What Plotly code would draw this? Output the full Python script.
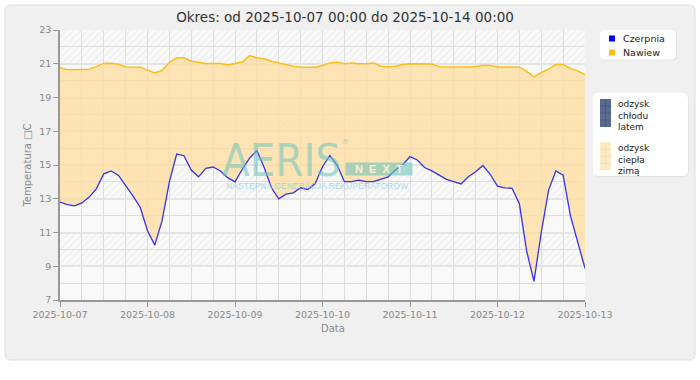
import plotly.graph_objects as go
import pandas as pd

# ---------------- data ----------------
times = pd.date_range("2025-10-07 00:00", "2025-10-13 00:00", freq="2h")

czerpnia = [12.8, 12.65, 12.58, 12.75, 13.1, 13.6, 14.48, 14.65, 14.4, 13.8,
            13.17, 12.5, 11.1, 10.25, 11.7, 14.0, 15.65, 15.55, 14.7, 14.3,
            14.8, 14.88, 14.65, 14.25, 14.0, 14.75, 15.4, 15.85, 14.85, 13.65,
            13.0, 13.27, 13.35, 13.65, 13.55, 13.9, 14.9, 15.55, 15.0, 14.02,
            14.02, 14.1, 14.02, 14.02, 14.15, 14.3, 14.7, 15.0, 15.5, 15.3,
            14.85, 14.65, 14.4, 14.15, 14.02, 13.88, 14.3, 14.6, 14.97, 14.45,
            13.75, 13.65, 13.62, 12.7, 9.9, 8.1, 11.0, 13.5, 14.65, 14.4,
            12.0, 10.5, 8.88]

nawiew = [20.76, 20.65, 20.65, 20.68, 20.68, 20.83, 21.02, 21.03, 20.97, 20.81,
          20.81, 20.8, 20.62, 20.45, 20.6, 21.07, 21.35, 21.35, 21.15, 21.08,
          21.01, 21.01, 21.01, 20.93, 21.02, 21.1, 21.48, 21.36, 21.3, 21.15,
          21.05, 20.95, 20.85, 20.8, 20.8, 20.8, 20.9, 21.05, 21.1, 21.0,
          21.05, 21.0, 21.0, 21.05, 20.85, 20.82, 20.85, 20.95, 21.0, 20.99,
          20.99, 20.99, 20.82, 20.81, 20.81, 20.81, 20.81, 20.83, 20.91, 20.9,
          20.81, 20.81, 20.81, 20.8, 20.55, 20.22, 20.48, 20.68, 20.95, 20.95,
          20.72, 20.58, 20.36]

y_range = [7, 23]
x_range = ["2025-10-07", "2025-10-13"]
hatch_bands = [(9, 11), (13, 15), (17, 19), (21, 23)]

title_text = "Okres: od 2025-10-07 00:00 do 2025-10-14 00:00"
series_names = ["Czerpnia", "Nawiew"]
legend2_names = ["odzysk<br>chłodu<br>latem", "odzysk<br>ciepła<br>zimą"]

# ---------------- geometry helpers ----------------
W, H = 700, 380
ML, MR, MT, MB = 60, 115, 30, 80
PW, PH = W - ML - MR, H - MT - MB


def PX(x):
    return (x - ML) / PW


def PY(y):
    return (H - MB - y) / PH


def rrect(x0, y0, x1, y1, r):
    pts = [
        f"M {PX(x0 + r)},{PY(y0)}",
        f"L {PX(x1 - r)},{PY(y0)}",
        f"Q {PX(x1)},{PY(y0)} {PX(x1)},{PY(y0 + r)}",
        f"L {PX(x1)},{PY(y1 - r)}",
        f"Q {PX(x1)},{PY(y1)} {PX(x1 - r)},{PY(y1)}",
        f"L {PX(x0 + r)},{PY(y1)}",
        f"Q {PX(x0)},{PY(y1)} {PX(x0)},{PY(y1 - r)}",
        f"L {PX(x0)},{PY(y0 + r)}",
        f"Q {PX(x0)},{PY(y0)} {PX(x0 + r)},{PY(y0)}",
        "Z",
    ]
    return " ".join(pts)


FONT = "DejaVu Sans"
fig = go.Figure()

# hatched background bands
for lo, hi in hatch_bands:
    fig.add_trace(go.Scatter(
        x=[x_range[0], x_range[1], x_range[1], x_range[0], x_range[0]],
        y=[lo, lo, hi, hi, lo],
        mode="none", fill="toself", fillcolor="rgba(0,0,0,0)",
        fillpattern=dict(shape="/", fgcolor="#e2e2e2", bgcolor="rgba(0,0,0,0)",
                         size=5, solidity=0.25),
        hoverinfo="skip", showlegend=False,
    ))

fig.add_trace(go.Scatter(
    x=times, y=czerpnia, mode="lines", name=series_names[0],
    line=dict(color="#3333f0", width=1.3), showlegend=False,
))
fig.add_trace(go.Scatter(
    x=times, y=nawiew, mode="lines", name=series_names[1],
    line=dict(color="#fbbf1a", width=1.5),
    fill="tonexty", fillcolor="rgba(255,222,160,0.78)", showlegend=False,
))

shapes = []
# card
shapes.append(dict(type="path", xref="paper", yref="paper", path=rrect(5, 5, 695, 360, 6),
                   fillcolor="#f0f0f0", line=dict(color="#dedede", width=1), layer="below"))
shapes.append(dict(type="rect", xref="paper", yref="paper", x0=0, x1=1, y0=0, y1=1,
                   fillcolor="#f9f9f9", line=dict(width=0), layer="below"))
# legend 1
shapes.append(dict(type="path", xref="paper", yref="paper", path=rrect(601, 31, 677, 60.5, 5),
                   fillcolor="#e4e4e4", line=dict(width=0), layer="above"))
shapes.append(dict(type="path", xref="paper", yref="paper", path=rrect(600, 30, 676, 59.5, 5),
                   fillcolor="#ffffff", line=dict(width=0), layer="above"))
for cy, col in [(38.5, "#0000ff"), (52.5, "#ffc000")]:
    shapes.append(dict(type="rect", xref="paper", yref="paper",
                       x0=PX(609), x1=PX(615), y0=PY(cy - 3), y1=PY(cy + 3),
                       fillcolor=col, line=dict(width=0), layer="above"))
# legend 2
shapes.append(dict(type="path", xref="paper", yref="paper", path=rrect(594, 93.7, 689, 177, 6),
                   fillcolor="#e4e4e4", line=dict(width=0), layer="above"))
shapes.append(dict(type="path", xref="paper", yref="paper", path=rrect(593, 92.7, 688, 176, 6),
                   fillcolor="#ffffff", line=dict(width=0), layer="above"))
for (y0, y1, fill, grid) in [(99, 127, "#5b6a92", "#4d5b80"), (142.3, 170, "#fdebc8", "#f4dfb6")]:
    shapes.append(dict(type="rect", xref="paper", yref="paper",
                       x0=PX(600), x1=PX(611), y0=PY(y1), y1=PY(y0),
                       fillcolor=fill, line=dict(width=0), layer="above"))
    shapes.append(dict(type="line", xref="paper", yref="paper",
                       x0=PX(605.5), x1=PX(605.5), y0=PY(y1), y1=PY(y0),
                       line=dict(color=grid, width=1), layer="above"))
    k = y0 + 7
    while k < y1:
        shapes.append(dict(type="line", xref="paper", yref="paper",
                           x0=PX(600), x1=PX(611), y0=PY(k), y1=PY(k),
                           line=dict(color=grid, width=1), layer="above"))
        k += 7

annotations = []
for cy, name in [(38.5, series_names[0]), (52.5, series_names[1])]:
    annotations.append(dict(xref="paper", yref="paper", x=PX(621), y=PY(cy), text=name,
                            showarrow=False, xanchor="left", yanchor="middle",
                            font=dict(family=FONT, size=9.5, color="#222")))
for ytop, name in [(96.5, legend2_names[0]), (140.5, legend2_names[1])]:
    annotations.append(dict(xref="paper", yref="paper", x=PX(616), y=PY(ytop), text=name,
                            showarrow=False, xanchor="left", yanchor="top", align="left",
                            font=dict(family=FONT, size=9, color="#222")))

# watermark
annotations.append(dict(xref="paper", yref="paper", x=PX(281), y=PY(160), text="AERIS",
                        showarrow=False, xanchor="center", yanchor="middle",
                        font=dict(family="DejaVu Sans Condensed, DejaVu Sans", size=45,
                                  color="rgba(110,196,186,0.58)")))
annotations.append(dict(xref="paper", yref="paper", x=PX(345.5), y=PY(142), text="®",
                        showarrow=False, font=dict(family=FONT, size=7,
                                                   color="rgba(110,196,186,0.6)")))
annotations.append(dict(xref="paper", yref="paper", x=PX(379), y=PY(168.5),
                        text="<b>N&nbsp;&nbsp;E&nbsp;&nbsp;X&nbsp;&nbsp;T</b>",
                        showarrow=False, width=66, height=12, borderpad=0,
                        bgcolor="rgba(110,196,186,0.6)",
                        font=dict(family="Liberation Sans", size=11,
                                  color="#fff0cf")))
annotations.append(dict(xref="paper", yref="paper", x=PX(317), y=PY(185.5),
                        text="NASTĘPNA GENERACJA REKUPERATORÓW", showarrow=False,
                        font=dict(family="Liberation Sans", size=8.6,
                                  color="rgba(140,205,235,0.75)")))
# x axis title
annotations.append(dict(xref="paper", yref="paper", x=PX(333), y=PY(328), text="Data",
                        showarrow=False, xanchor="center", yanchor="middle",
                        font=dict(family=FONT, size=10, color="#888")))

fig.update_layout(
    width=W, height=H,
    margin=dict(l=ML, r=MR, t=MT, b=MB),
    paper_bgcolor="#ffffff", plot_bgcolor="#f9f9f9",
    font=dict(family=FONT, size=10, color="#888"),
    title=dict(text=title_text, x=345 / W, xref="container", xanchor="center",
               y=1 - 17 / H, yref="container", yanchor="middle",
               font=dict(family=FONT, size=13.5, color="#333")),
    showlegend=False,
    shapes=shapes, annotations=annotations,
    xaxis=dict(type="date", range=x_range, tickformat="%Y-%m-%d",
               dtick=86400000, tick0="2025-10-07",
               ticks="outside", ticklen=5, tickcolor="#999",
               showline=True, linecolor="#999", linewidth=1.5,
               showgrid=True, gridcolor="#dcdcdc", gridwidth=1,
               minor=dict(dtick=6 * 3600000, showgrid=True, gridcolor="#dcdcdc", gridwidth=1),
               zeroline=False, tickfont=dict(family=FONT, size=9.5, color="#888")),
    yaxis=dict(range=y_range, dtick=2, tick0=7,
               ticks="outside", ticklen=5, tickcolor="#999",
               showline=True, linecolor="#999", linewidth=1.5,
               showgrid=True, gridcolor="#e4e4e4", gridwidth=2,
               minor=dict(dtick=1, showgrid=True, gridcolor="#dcdcdc", gridwidth=1),
               zeroline=False, tickfont=dict(family=FONT, size=9.5, color="#888"),
               title=dict(text="Temperatura □C", standoff=6,
                          font=dict(family=FONT, size=10, color="#888"))),
)

fig.write_html("out.html", config={"displayModeBar": False},
               post_script="document.body.style.margin='0';")
